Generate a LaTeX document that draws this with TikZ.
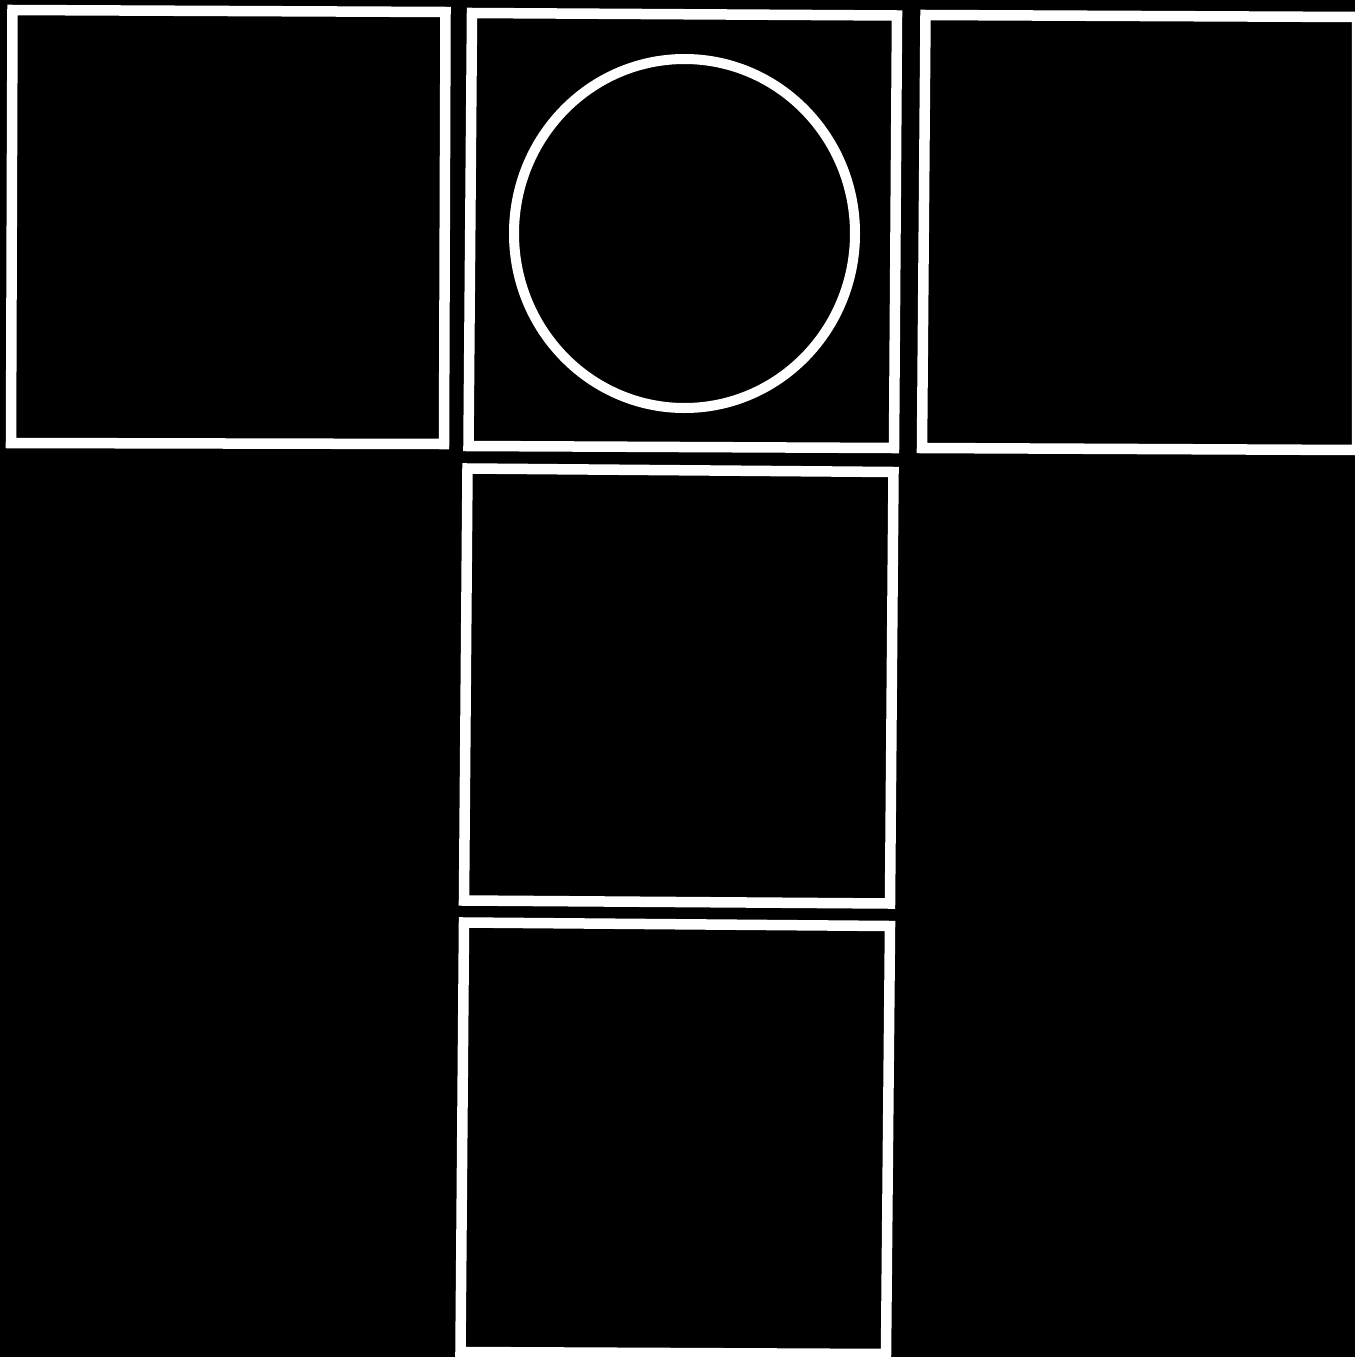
\documentclass[tikz,border=0pt]{standalone}
\usepackage{tikz}
\usetikzlibrary{calc}

\begin{document}
\begin{tikzpicture}[
    x=0.01cm, y=-0.01cm,
    frame/.style={draw=white, line width=0.105cm},
    ring/.style={draw=white, line width=0.1cm}
]
% black page
\fill[black] (0,0) rectangle (1355,1357);
\useasboundingbox (0,0) rectangle (1355,1357);
\clip (0,0) rectangle (1355,1357);

% top row
\draw[frame] (12.5,10) -- (445.5,12) -- (444,444) -- (11,443) -- cycle;
\draw[frame] (472,13) -- (897,15.5) -- (894,448) -- (468.5,446) -- cycle;
\draw[frame] (925.5,15) -- (1357,17) -- (1357,450) -- (922,448) -- cycle;

% circle in the middle cell
\draw[ring] (684.5,233.5) ellipse [x radius=170.5, y radius=174.5];

% stem
\draw[frame] (467.5,468.5) -- (893.5,472) -- (890,903.5) -- (464,900.5) -- cycle;
\draw[frame] (464,922.5) -- (890,926) -- (886,1354) -- (460.5,1352) -- cycle;
\end{tikzpicture}
\end{document}
